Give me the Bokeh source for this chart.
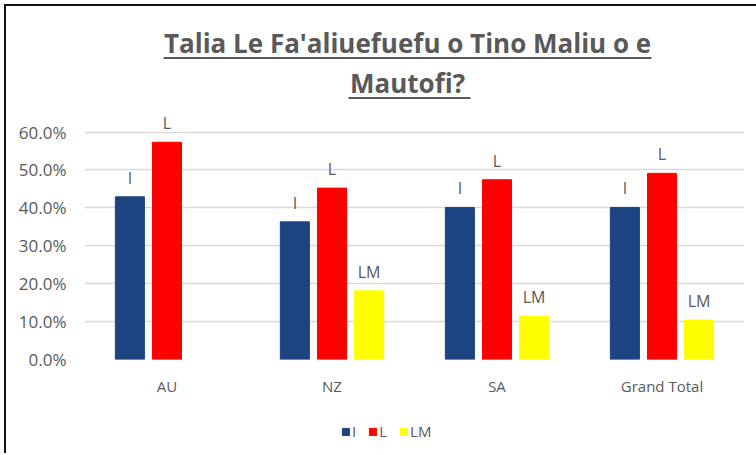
from bokeh.plotting import figure
from bokeh.layouts import column
from bokeh.models import (ColumnDataSource, FactorRange, Range1d, FixedTicker,
                          NumeralTickFormatter, Legend, LegendItem)
from bokeh.transform import dodge
from bokeh.core.properties import value
from bokeh.embed import file_html
from bokeh.resources import INLINE

# ---- data ----
categories = ["AU", "NZ", "SA", "Grand Total"]
series_names = ["I", "L", "LM"]
i_vals = [0.429, 0.363, 0.401, 0.401]
l_vals = [0.573, 0.452, 0.474, 0.491]
lm_vals = [None, 0.181, 0.114, 0.104]
y_ticks = [0.0, 0.1, 0.2, 0.3, 0.4, 0.5, 0.6]
title_lines = ["Talia Le Fa'aliuefuefu o Tino Maliu o e", "Mautofi?"]

# ---- styles ----
colors = ["#1B4480", "#FF0000", "#FFFF00"]
offsets = [-0.225, 0.0, 0.225]
TEXT = "#595959"
FONT = "Open Sans"

p = figure(width=750, height=409, x_range=FactorRange(*categories, range_padding=0),
           y_range=Range1d(0, 0.9099), output_backend="svg", toolbar_location=None,
           min_border_left=78, min_border_right=12, min_border_top=8, min_border_bottom=56)
p.outline_line_color = None
p.border_fill_color = "white"
p.background_fill_color = "white"

p.xgrid.grid_line_color = None
p.ygrid.ticker = FixedTicker(ticks=y_ticks)
p.ygrid.grid_line_color = "#D9D9D9"
p.ygrid.grid_line_width = 1.3

p.yaxis.ticker = FixedTicker(ticks=y_ticks)
p.yaxis.formatter = NumeralTickFormatter(format="0.0%")
p.yaxis.axis_line_color = None
p.yaxis.major_tick_line_color = None
p.yaxis.minor_tick_line_color = None
p.yaxis.major_tick_out = 0
p.yaxis.major_label_standoff = 18
p.yaxis.major_label_text_font = FONT
p.yaxis.major_label_text_font_size = "17px"
p.yaxis.major_label_text_color = TEXT

p.xaxis.axis_line_color = None
p.xaxis.major_tick_line_color = None
p.xaxis.major_tick_out = 0
p.xaxis.major_label_standoff = 16
p.xaxis.major_label_text_font = FONT
p.xaxis.major_label_text_font_size = "15px"
p.xaxis.major_label_text_color = TEXT

# legend strip below the chart
p2 = figure(width=750, height=38, x_range=Range1d(0, 1), y_range=Range1d(0, 1),
            output_backend="svg", toolbar_location=None, x_axis_type=None, y_axis_type=None,
            min_border_left=0, min_border_right=0, min_border_top=0, min_border_bottom=0)
p2.outline_line_color = None
p2.border_fill_color = "white"
p2.background_fill_color = "white"
p2.grid.grid_line_color = None

all_vals = [i_vals, l_vals, lm_vals]
items = []
for name, vals, col, off in zip(series_names, all_vals, colors, offsets):
    cats = [c for c, v in zip(categories, vals) if v is not None]
    vs = [v for v in vals if v is not None]
    src = ColumnDataSource(dict(cat=cats, val=vs, label=[name] * len(vs)))
    p.vbar(x=dodge("cat", off, range=p.x_range), top="val", width=0.176,
           source=src, fill_color=col, line_color=col)
    p.text(x=dodge("cat", off, range=p.x_range), y="val", text="label", source=src,
           text_align="center", text_baseline="middle", y_offset=-19,
           text_font=value(FONT), text_font_size="16px", text_color=TEXT)
    # proxy glyph (outside the visible range) that only feeds the legend swatch
    r2 = p2.vbar(x=[-10], top=[-10], bottom=[-11], width=0.1, fill_color=col, line_color=col)
    items.append(LegendItem(label=name, renderers=[r2]))

# title (bold, underlined) drawn inside the extended frame
title_x = 1.958
title_y = [0.836, 0.7305]
p.text(x=[title_x, title_x], y=title_y, text=title_lines, text_align="center",
       text_baseline="middle", text_font=value(FONT), text_font_size="26px",
       text_font_style="bold", text_color=TEXT)
p.segment(x0=[0.479, 1.60], x1=[3.436, 2.339], y0=[0.7952, 0.6897], y1=[0.7952, 0.6897],
          line_color=TEXT, line_width=2)

legend = Legend(items=items, orientation="horizontal", location=(257, 12),
                border_line_color=None, background_fill_alpha=0,
                glyph_width=9, glyph_height=9, label_standoff=2, spacing=12,
                label_width=0, label_height=16,
                padding=0, margin=0, label_text_font=FONT,
                label_text_font_size="15px", label_text_color=TEXT)
p2.add_layout(legend, "center")

layout = column(p, p2, spacing=0,
                styles={"border-left": "2px solid #111111", "border-top": "2px solid #111111",
                        "margin-left": "4px", "margin-top": "4px", "overflow": "hidden"})

open("out.html", "w").write(file_html(layout, INLINE))
